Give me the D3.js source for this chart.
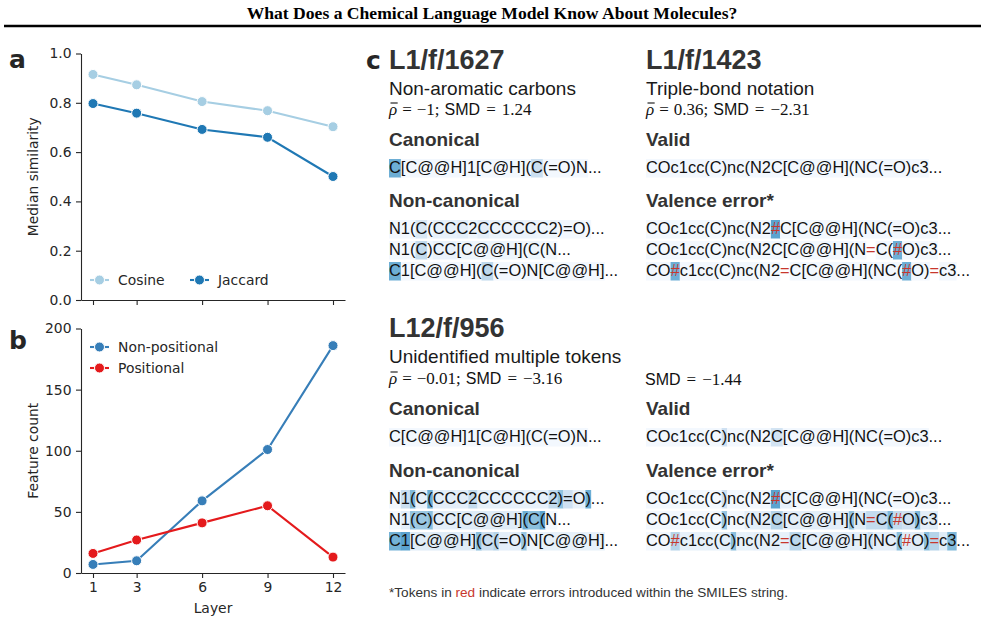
<!DOCTYPE html>
<html>
<head>
<meta charset="utf-8">
<script src="https://cdn.jsdelivr.net/npm/d3@7"></script>
<style>
  body { margin: 0; background: #fff; }
</style>
</head>
<body>
<svg id="fig" width="985" height="624"></svg>
<script>
// ---- data ----
const title = "What Does a Chemical Language Model Know About Molecules?";

const layers = [1, 3, 6, 9, 12];
const cosine = [0.915, 0.873, 0.805, 0.768, 0.703];
const jaccard = [0.797, 0.758, 0.692, 0.660, 0.501];
const nonPositional = [7, 10, 59, 101, 186];
const positional = [16, 27, 41, 55, 13];
const simTicks = [0, 0.2, 0.4, 0.6, 0.8, 1.0];
const countTicks = [0, 50, 100, 150, 200];

const featureIds = ["L1/f/1627", "L1/f/1423", "L12/f/956"];
const featureNames = ["Non-aromatic carbons", "Triple-bond notation", "Unidentified multiple tokens"];
const rhoValues = [-1, 0.36, -0.01];
const smdValues = [1.24, -2.31, -3.16, -1.44];

// token lines: [token, highlight weight (default faint), is error]
const f1627Canonical = [["C", .5], ["[C@@H]"], ["1"], ["[C@H]"], ["("], ["C", .22], ["("], ["="], ["O"], [")"], ["N"], ["..."]];
const f1627NonCanonical = [
  [["N"], ["1"], ["("], ["C", .15], ["("], ["C", .08], ["C", .08], ["C", .1], ["2", .05], ["C", .1], ["C", .06], ["C", .06], ["C", .06], ["C", .06], ["C", .05], ["2", .05], [")"], ["="], ["O"], [")"], ["..."]],
  [["N"], ["1"], ["("], ["C", .25], [")"], ["C", .07], ["C", .07], ["[C@@H]", .05], ["("], ["C", .05], ["("], ["N"], ["..."]],
  [["C", .5], ["1"], ["[C@@H]"], ["("], ["C", .27], ["("], ["="], ["O"], [")"], ["N"], ["[C@@H]"], ["..."]]
];
const f1423Valid = [["C"], ["O"], ["c"], ["1"], ["c"], ["c"], ["("], ["C"], [")"], ["n"], ["c"], ["("], ["N"], ["2"], ["C"], ["[C@@H]"], ["("], ["N"], ["C"], ["("], ["="], ["O"], [")"], ["c"], ["3"], ["..."]];
const f1423Valence = [
  [["C"], ["O"], ["c"], ["1"], ["c"], ["c"], ["("], ["C"], [")"], ["n"], ["c"], ["("], ["N"], ["2"], ["#", .55, 1], ["C"], ["[C@@H]"], ["("], ["N"], ["C"], ["("], ["="], ["O"], [")"], ["c"], ["3"], ["..."]],
  [["C"], ["O"], ["c"], ["1"], ["c"], ["c"], ["("], ["C"], [")"], ["n"], ["c"], ["("], ["N"], ["2"], ["C"], ["[C@@H]"], ["("], ["N"], ["=", 0, 1], ["C"], ["("], ["#", .5, 1], ["O"], [")"], ["c"], ["3"], ["..."]],
  [["C"], ["O"], ["#", .5, 1], ["c"], ["1"], ["c"], ["c"], ["("], ["C"], [")"], ["n"], ["c"], ["("], ["N"], ["2"], ["=", 0, 1], ["C"], ["[C@@H]"], ["("], ["N"], ["C"], ["("], ["#", .5, 1], ["O"], [")"], ["=", 0, 1], ["c"], ["3"], ["..."]]
];
const f956Canonical = [["C"], ["[C@@H]"], ["1"], ["[C@H]"], ["("], ["C"], ["("], ["="], ["O"], [")"], ["N"], ["..."]];
const f956NonCanonical = [
  [["N"], ["1", .22], ["(", .45], ["C", .08], ["(", .5], ["C", .1], ["C", .1], ["C", .1], ["2", .25], ["C", .08], ["C", .08], ["C", .08], ["C", .08], ["C", .08], ["C", .08], ["2", .25], [")", .4], ["=", .2], ["O", .08], [")", .5], ["..."]],
  [["N"], ["1", .1], ["(", .4], ["C", .38], [")", .42], ["C", .1], ["C", .1], ["[C@@H]", .12], ["(", .5], ["C", .42], ["(", .55], ["N"], ["..."]],
  [["C", .48], ["1", .55], ["[C@@H]", .12], ["(", .42], ["C", .22], ["(", .3], ["=", .1], ["O", .1], [")", .38], ["N", .05], ["[C@@H]", .08], ["..."]]
];
const f956Valid = [["C"], ["O"], ["c"], ["1"], ["c"], ["c"], ["("], ["C"], [")", .2], ["n"], ["c"], ["("], ["N"], ["2"], ["C", .18], ["[C@@H]"], ["("], ["N"], ["C"], ["("], ["="], ["O"], [")"], ["c"], ["3"], ["..."]];
const f956Valence = [
  [["C"], ["O"], ["c"], ["1"], ["c"], ["c"], ["("], ["C"], [")", .2], ["n"], ["c"], ["("], ["N"], ["2"], ["#", .55, 1], ["C", .08], ["[C@@H]"], ["("], ["N"], ["C"], ["("], ["="], ["O"], [")"], ["c"], ["3"], ["..."]],
  [["C"], ["O"], ["c"], ["1"], ["c"], ["c"], ["("], ["C"], [")", .38], ["n"], ["c"], ["(", .1], ["N", .1], ["2", .1], ["C", .3], ["[C@@H]", .1], ["(", .4], ["N", .12], ["=", .25, 1], ["C", .25], ["(", .45], ["#", .25, 1], ["O", .2], [")", .45], ["c", .1], ["3", .12], ["..."]],
  [["C"], ["O"], ["#", .3, 1], ["c", .08], ["1", .08], ["c", .08], ["c", .08], ["(", .08], ["C", .1], [")", .42], ["n", .08], ["c", .08], ["(", .1], ["N", .1], ["2", .1], ["=", .08, 1], ["C", .28], ["[C@@H]", .1], ["(", .2], ["N", .1], ["C", .1], ["(", .42], ["#", .12, 1], ["O", .12], [")", .42], ["=", .3, 1], ["c", .12], ["3", .45], ["..."]]
];

// ---- setup ----
const INK = "#262626";
const RED = "#c8372d";
const svg = d3.select("#fig");
svg.append("rect").attr("width", 985).attr("height", 624).attr("fill", "#fff");

// header
svg.append("text")
  .attr("x", 492).attr("y", 19)
  .attr("text-anchor", "middle")
  .attr("font-family", "Liberation Serif")
  .attr("font-weight", "bold")
  .attr("font-size", 17.6)
  .attr("fill", "#000")
  .text(title);
svg.append("line")
  .attr("x1", 4).attr("x2", 981).attr("y1", 26).attr("y2", 26)
  .attr("stroke", "#000").attr("stroke-width", 2.6);

// ---- line panels (a, b) ----
const x = d3.scaleLinear().domain([0.45, 12.55]).range([81, 345]);

function panel(opts) {
  const y = d3.scaleLinear().domain(opts.yDomain).range([opts.bottom, opts.top]);
  const g = svg.append("g");

  const styleAxis = a => {
    a.selectAll("path, line").attr("stroke", INK).attr("stroke-width", 1.1);
    a.selectAll("text").attr("font-family", "DejaVu Sans").attr("font-size", 13.9).attr("fill", INK);
  };

  g.append("g")
    .attr("transform", `translate(81,0)`)
    .call(d3.axisLeft(y).tickValues(opts.yTicks).tickFormat(opts.yFormat).tickSize(5).tickPadding(4.5).tickSizeOuter(0))
    .call(styleAxis);

  g.append("g")
    .attr("transform", `translate(0,${opts.bottom})`)
    .call(d3.axisBottom(x).tickValues(layers).tickFormat(opts.xLabels ? d3.format("d") : "").tickSize(5).tickPadding(4.5).tickSizeOuter(0))
    .call(styleAxis);

  const line = d3.line().x((d, i) => x(layers[i])).y(d => y(d));
  opts.series.forEach(s => {
    g.append("path")
      .datum(s.values)
      .attr("d", line)
      .attr("fill", "none")
      .attr("stroke", s.color)
      .attr("stroke-width", 2.1);
    g.selectAll(null)
      .data(s.values)
      .join("circle")
      .attr("cx", (d, i) => x(layers[i]))
      .attr("cy", d => y(d))
      .attr("r", 5)
      .attr("fill", s.color)
      .attr("stroke", "#fff")
      .attr("stroke-width", 1);
  });

  // legend
  opts.series.forEach(s => {
    const lg = g.append("g").attr("transform", `translate(${s.lx},${s.ly})`);
    lg.append("line").attr("x1", 0).attr("x2", 19).attr("stroke", s.color).attr("stroke-width", 2.1);
    lg.append("circle").attr("cx", 9.5).attr("r", 5).attr("fill", s.color).attr("stroke", "#fff").attr("stroke-width", 1);
    lg.append("text").attr("x", 28).attr("dy", "0.35em")
      .attr("font-family", "DejaVu Sans").attr("font-size", 13.9).attr("fill", INK)
      .text(s.name);
  });

  // y label
  g.append("text")
    .attr("transform", `translate(37.5,${(opts.top + opts.bottom) / 2}) rotate(-90)`)
    .attr("text-anchor", "middle")
    .attr("font-family", "DejaVu Sans").attr("font-size", 13.9).attr("fill", INK)
    .text(opts.yLabel);

  // panel letter
  g.append("text")
    .attr("x", 9).attr("y", opts.letterY)
    .attr("font-family", "DejaVu Sans").attr("font-weight", "bold").attr("font-size", 25).attr("fill", INK)
    .text(opts.letter);
  return g;
}

panel({
  top: 53.5, bottom: 300, yDomain: [0, 1], yTicks: simTicks, yFormat: d3.format(".1f"),
  xLabels: false, yLabel: "Median similarity", letter: "a", letterY: 68,
  series: [
    { name: "Cosine", values: cosine, color: "#a6cee3", lx: 90, ly: 280 },
    { name: "Jaccard", values: jaccard, color: "#1f78b4", lx: 190, ly: 280 }
  ]
});

const pb = panel({
  top: 328.5, bottom: 573, yDomain: [0, 200], yTicks: countTicks, yFormat: d3.format("d"),
  xLabels: true, yLabel: "Feature count", letter: "b", letterY: 349,
  series: [
    { name: "Non-positional", values: nonPositional, color: "#377eb8", lx: 90, ly: 347 },
    { name: "Positional", values: positional, color: "#e41a1c", lx: 90, ly: 368 }
  ]
});
pb.append("text")
  .attr("x", 213).attr("y", 613)
  .attr("text-anchor", "middle")
  .attr("font-family", "DejaVu Sans").attr("font-size", 13.9).attr("fill", INK)
  .text("Layer");

// ---- panel c ----
const pc = svg.append("g").attr("font-family", "Liberation Sans");

pc.append("text")
  .attr("x", 366).attr("y", 69)
  .attr("font-family", "DejaVu Sans").attr("font-weight", "bold").attr("font-size", 25).attr("fill", INK)
  .text("c");

function label(x, y, text, size, bold, color) {
  return pc.append("text")
    .attr("x", x).attr("y", y)
    .attr("font-size", size)
    .attr("font-weight", bold ? "bold" : "normal")
    .attr("fill", color)
    .text(text);
}

const minus = v => String(v).replace("-", "\u2212");

// stats line: rho bar and SMD, laid out piece by piece
function stats(x, y, rho, smd) {
  const g = pc.append("g");
  let cx = x;
  const pieces = [];
  if (rho !== null) {
    pieces.push({ t: "\u03c1", serif: true, italic: true, gap: 5, bar: true });
    pieces.push({ t: "=", serif: true, gap: 5 });
    pieces.push({ t: minus(rho) + ";", serif: true, gap: 5 });
  }
  pieces.push({ t: "SMD", serif: false, gap: 6 });
  pieces.push({ t: "=", serif: true, gap: 6 });
  pieces.push({ t: minus(smd), serif: true, gap: 0 });
  pieces.forEach(p => {
    const t = g.append("text")
      .attr("x", cx).attr("y", y)
      .attr("font-family", p.serif ? "Liberation Serif" : "Liberation Sans")
      .attr("font-style", p.italic ? "italic" : "normal")
      .attr("font-size", p.serif ? 17 : 16)
      .attr("fill", "#111")
      .text(p.t);
    const len = t.node().getComputedTextLength();
    if (p.bar) {
      g.append("line")
        .attr("x1", cx + 1.5).attr("x2", cx + len + 0.5)
        .attr("y1", y - 12).attr("y2", y - 12)
        .attr("stroke", "#111").attr("stroke-width", 1.1);
    }
    cx += len + p.gap;
  });
}

function smiles(x, y, tokens) {
  const g = pc.append("g").attr("font-size", 16.4);
  const bg = g.append("g");
  const fg = g.append("g");
  let cx = x;
  tokens.forEach(([s, w = 0.02, err = 0]) => {
    const t = fg.append("text")
      .attr("x", cx).attr("y", y)
      .attr("fill", err ? RED : "#111")
      .text(s);
    const len = t.node().getComputedTextLength();
    if (s !== "..." && w > 0) {
      bg.append("rect")
        .attr("x", cx).attr("y", y - 14)
        .attr("width", len + 0.3).attr("height", 18.5)
        .attr("fill", d3.interpolateBlues(w));
    }
    cx += len;
  });
}

const LX = 389, RX = 646;

// top-left feature
label(LX, 69, featureIds[0], 27, true, "#333");
label(LX, 95, featureNames[0], 19, false, "#1a1a1a");
stats(LX, 115, rhoValues[0], smdValues[0]);
label(LX, 146, "Canonical", 19, true, "#333");
smiles(LX, 173, f1627Canonical);
label(LX, 207, "Non-canonical", 19, true, "#333");
f1627NonCanonical.forEach((l, i) => smiles(LX, 234 + i * 21, l));

// top-right feature
label(RX, 69, featureIds[1], 27, true, "#333");
label(RX, 95, featureNames[1], 19, false, "#1a1a1a");
stats(RX, 115, rhoValues[1], smdValues[1]);
label(RX, 146, "Valid", 19, true, "#333");
smiles(RX, 173, f1423Valid);
label(RX, 207, "Valence error*", 19, true, "#333");
f1423Valence.forEach((l, i) => smiles(RX, 234 + i * 21, l));

// bottom feature
label(LX, 337, featureIds[2], 27, true, "#333");
label(LX, 363, featureNames[2], 19, false, "#1a1a1a");
stats(LX, 384, rhoValues[2], smdValues[2]);
stats(RX - 1, 385, null, smdValues[3]);
label(LX, 415, "Canonical", 19, true, "#333");
smiles(LX, 442, f956Canonical);
label(RX, 415, "Valid", 19, true, "#333");
smiles(RX, 442, f956Valid);
label(LX, 477, "Non-canonical", 19, true, "#333");
f956NonCanonical.forEach((l, i) => smiles(LX, 504 + i * 21, l));
label(RX, 477, "Valence error*", 19, true, "#333");
f956Valence.forEach((l, i) => smiles(RX, 504 + i * 21, l));

// footnote
const fn = pc.append("text")
  .attr("x", LX).attr("y", 597)
  .attr("font-size", 13.6)
  .attr("fill", "#333");
fn.append("tspan").text("*Tokens in ");
fn.append("tspan").attr("fill", RED).text("red");
fn.append("tspan").text(" indicate errors introduced within the SMILES string.");
</script>
</body>
</html>
